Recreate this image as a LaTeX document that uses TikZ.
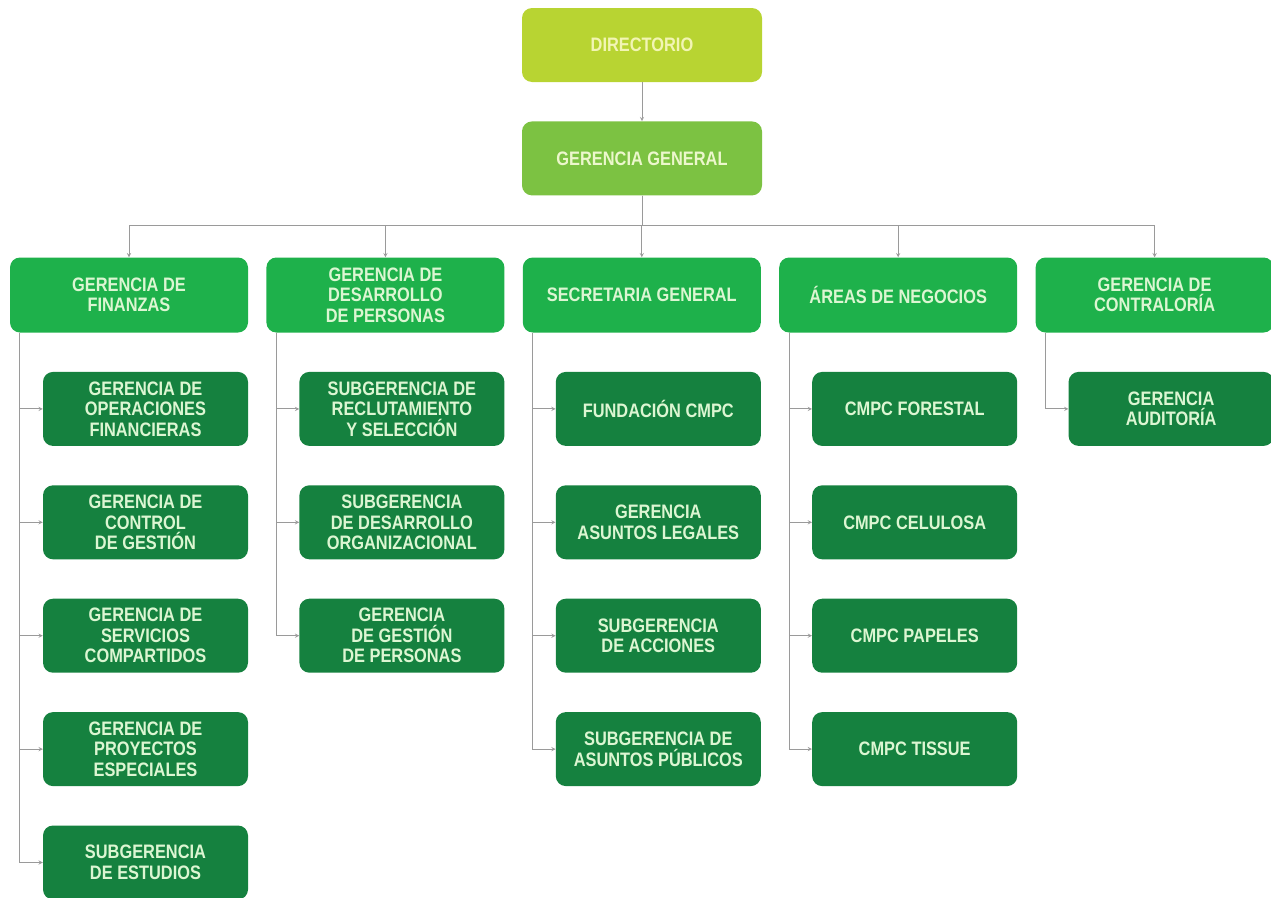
\documentclass[tikz,border=0pt]{standalone}
\usepackage{fontspec}
\newfontfamily\orgfont{Liberation Sans}[FakeStretch=0.84]
\usepackage{tikz}
\usetikzlibrary{arrows}
\usetikzlibrary{positioning}

\definecolor{dirgreen}{HTML}{B8D432}
\definecolor{dirtext}{HTML}{F2F5B4}
\definecolor{gengreen}{HTML}{7CC242}
\definecolor{gentext}{HTML}{ECF7CC}
\definecolor{mgrgreen}{HTML}{1EB14B}
\definecolor{subgreen}{HTML}{15813F}
\definecolor{lighttext}{HTML}{DCF6D2}
\definecolor{linegray}{HTML}{9A9A9A}

\begin{document}
\begin{tikzpicture}[x=1pt, y=-1pt, >=stealth, node distance=39pt,
    box/.style={rectangle, rounded corners=10pt, inner sep=0pt, align=center,
        font=\orgfont\bfseries\fontsize{19.5}{20.5}\selectfont},
    top/.style={box, fill=dirgreen, text=dirtext, minimum width=240pt, minimum height=74pt},
    gen/.style={box, fill=gengreen, text=gentext, minimum width=240pt, minimum height=74pt},
    mgr/.style={box, fill=mgrgreen, text=lighttext, minimum width=238pt, minimum height=75pt},
    sub/.style={box, fill=subgreen, text=lighttext, minimum width=205pt, minimum height=74pt},
    link/.style={->, draw=linegray, line width=0.9pt}]

    \useasboundingbox (0,0) rectangle (1271,897);

    % Nodes

    \node[top]                  (dir)   at (642,45)  {DIRECTORIO};
    \node[gen, below=of dir]    (gg)                 {GERENCIA GENERAL};

    \node[mgr]                  (fin)   at (129,295) {GERENCIA DE\\FINANZAS};
    \node[mgr, right=18pt of fin] (per)              {GERENCIA DE\\DESARROLLO\\DE PERSONAS};
    \node[mgr, right=18pt of per] (sec)              {SECRETARIA GENERAL};
    \node[mgr, right=18pt of sec] (neg)              {ÁREAS DE NEGOCIOS};
    \node[mgr, right=18pt of neg] (con)              {GERENCIA DE\\CONTRALORÍA};

    % Finanzas
    \node[sub, below=39pt of fin.south east, anchor=north east] (opf) {GERENCIA DE\\OPERACIONES\\FINANCIERAS};
    \node[sub, below=of opf]    (ctl)   {GERENCIA DE\\CONTROL\\DE GESTIÓN};
    \node[sub, below=of ctl]    (ser)   {GERENCIA DE\\SERVICIOS\\COMPARTIDOS};
    \node[sub, below=of ser]    (pro)   {GERENCIA DE\\PROYECTOS\\ESPECIALES};
    \node[sub, below=of pro]    (est)   {SUBGERENCIA\\DE ESTUDIOS};

    % Personas
    \node[sub, below=39pt of per.south east, anchor=north east] (rec) {SUBGERENCIA DE\\RECLUTAMIENTO\\Y SELECCIÓN};
    \node[sub, below=of rec]    (org)   {SUBGERENCIA\\DE DESARROLLO\\ORGANIZACIONAL};
    \node[sub, below=of org]    (gep)   {GERENCIA\\DE GESTIÓN\\DE PERSONAS};

    % Secretaria
    \node[sub, below=39pt of sec.south east, anchor=north east] (fun) {FUNDACIÓN CMPC};
    \node[sub, below=of fun]    (leg)   {GERENCIA\\ASUNTOS LEGALES};
    \node[sub, below=of leg]    (acc)   {SUBGERENCIA\\DE ACCIONES};
    \node[sub, below=of acc]    (pub)   {SUBGERENCIA DE\\ASUNTOS PÚBLICOS};

    % Negocios
    \node[sub, below=39pt of neg.south east, anchor=north east] (frs) {CMPC FORESTAL};
    \node[sub, below=of frs]    (cel)   {CMPC CELULOSA};
    \node[sub, below=of cel]    (pap)   {CMPC PAPELES};
    \node[sub, below=of pap]    (tis)   {CMPC TISSUE};

    % Contraloria
    \node[sub, below=39pt of con.south east, anchor=north east] (aud) {GERENCIA\\AUDITORÍA};

    % Edges

    \draw[link] (dir) -- (gg);
    \draw[link] (gg.south) -- ++(0,30) -| (fin.north);
    \draw[link] (gg.south) -- ++(0,30) -| (per.north);
    \draw[link] (gg.south) -- ++(0,30) -| (sec.north);
    \draw[link] (gg.south) -- ++(0,30) -| (neg.north);
    \draw[link] (gg.south) -- ++(0,30) -| (con.north);

    \draw[link] ([xshift=10pt]fin.south west) |- (opf.west);
    \draw[link] ([xshift=10pt]fin.south west) |- (ctl.west);
    \draw[link] ([xshift=10pt]fin.south west) |- (ser.west);
    \draw[link] ([xshift=10pt]fin.south west) |- (pro.west);
    \draw[link] ([xshift=10pt]fin.south west) |- (est.west);

    \draw[link] ([xshift=10pt]per.south west) |- (rec.west);
    \draw[link] ([xshift=10pt]per.south west) |- (org.west);
    \draw[link] ([xshift=10pt]per.south west) |- (gep.west);

    \draw[link] ([xshift=10pt]sec.south west) |- (fun.west);
    \draw[link] ([xshift=10pt]sec.south west) |- (leg.west);
    \draw[link] ([xshift=10pt]sec.south west) |- (acc.west);
    \draw[link] ([xshift=10pt]sec.south west) |- (pub.west);

    \draw[link] ([xshift=10pt]neg.south west) |- (frs.west);
    \draw[link] ([xshift=10pt]neg.south west) |- (cel.west);
    \draw[link] ([xshift=10pt]neg.south west) |- (pap.west);
    \draw[link] ([xshift=10pt]neg.south west) |- (tis.west);

    \draw[link] ([xshift=10pt]con.south west) |- (aud.west);

\end{tikzpicture}
\end{document}
